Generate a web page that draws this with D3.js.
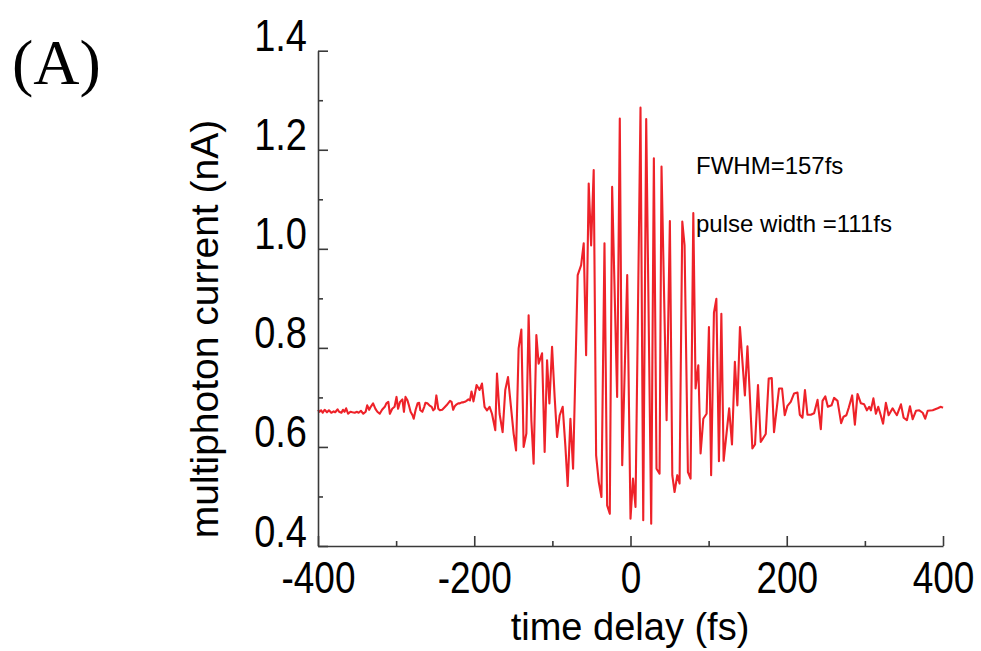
<!DOCTYPE html>
<html>
<head>
<meta charset="utf-8">
<script src="https://cdn.jsdelivr.net/npm/d3@7"></script>
<style>
  html, body { margin: 0; padding: 0; background: #ffffff; }
  svg { display: block; }
</style>
</head>
<body>
<svg id="chart" width="981" height="651"></svg>
<script>
// ---- data ----
const delayFs = [
  -400,-398,-396,-394,-391.5,-388.5,-386,-383,-380,-378,-375,-373,-370,-368,-366,-364,-361.5,-358.5,-356,-353,
  -350,-348,-345,-342,-339,-337,-334.5,-332.5,-329.5,-326.5,-324,-321,-318,-314.5,-312.5,-310,-308,-305,-302,-299.5,
  -297.5,-295,-292,-290,-288,-285.5,-284,-281.5,-279,-277.5,-275,-272.5,-270.5,-269,-266.5,-264,-262.5,-260,-257.5,-254.5,
  -252.5,-250.5,-248.5,-246,-244,-241,-238.5,-235.5,-233.5,-231,-229,-227,-225,-222.5,-220.5,-218.5,-216,-214,-212,-210,
  -207.5,-205.5,-203.5,-201,
  -197,-193.2,-190.1,-186.8,-183.7,-180.4,-177.3,-173.1,-170.9,-167.6,-163.7,-160.3,-156.8,-153,-149.6,-146.5,-143.2,-139.7,
  -136.8,-133.3,-130.4,-126.9,-124,-120.5,-117.6,-113.2,-109.9,-106.8,-103.8,-100.4,-97.1,-94,-90.6,-86.8,-83.3,-80.4,
  -76.9,-73.5,
  -67.6,-63.2,-59.9,-56.8,-53.5,-50.4,-47.1,-44,-40.6,-37.2,-33.3,-29.9,-26.5,-23.5,-17.1,-13.7,-10.6,-4.2,0,3.2,6.4,
  12.8,16.3,20.1,26.5,29.9,33.3,37.2,39.7,46.2,50.4,53.5,56.4,59.9,62.8,66.3,69.2,73.5,76.9,80.4,83.3,86.8,89.7,93.2,
  97.4,100.4,103.2,106.8,109.9,113.2,116.3,119.2,
  126.3,129.9,133.6,136.8,140.1,146.4,149.7,156,159.4,163.2,166.7,173.1,176.9,180.8,183.7,190.1,194,197.4,200.9,205.1,
  209.4,213.7,216.7,220.1,223.3,226.5,230.8,235,239.4,243.6,245.8,249.4,252.6,257.3,260.6,265,269.6,272.7,276.3,279.5,
  283.7,287.2,290.6,294.9,299.1,302.6,305.5,307.7,310.9,314.1,317.1,320.5,323.3,326.9,330.4,335.5,338.5,341,346.2,349.6,
  353.8,357.7,361.2,365.4,369.6,374,377.2,380.4,386.8,393.2,397.4,400
];
const currentNA = [
  0.675,0.671,0.674,0.669,0.675,0.670,0.674,0.669,0.672,0.670,0.676,0.671,0.669,0.675,0.671,0.678,0.667,0.671,0.670,0.669,
  0.671,0.669,0.673,0.667,0.671,0.684,0.675,0.681,0.688,0.677,0.671,0.667,0.675,0.681,0.688,0.691,0.667,0.677,0.681,0.701,
  0.677,0.691,0.696,0.671,0.701,0.694,0.686,0.671,0.664,0.657,0.675,0.688,0.689,0.674,0.671,0.681,0.689,0.688,0.684,0.681,
  0.674,0.677,0.704,0.677,0.674,0.675,0.679,0.684,0.688,0.693,0.691,0.675,0.682,0.686,0.688,0.688,0.690,0.690,0.691,0.693,
  0.696,0.694,0.712,0.692,
  0.725,0.715,0.728,0.681,0.674,0.681,0.667,0.634,0.748,0.667,0.630,0.715,0.741,0.681,0.627,0.593,0.799,0.837,
  0.600,0.627,0.866,0.654,0.566,0.826,0.768,0.789,0.590,0.775,0.688,0.802,0.701,0.620,0.664,0.681,0.600,0.521,
  0.657,0.556,
  0.947,0.967,1.011,0.785,1.132,1.007,1.159,0.583,0.529,0.499,1.011,0.482,0.465,1.125,0.701,1.263,0.563,0.947,0.455,0.536,0.479,
  1.285,0.452,1.262,0.445,1.183,0.556,0.546,1.166,0.654,1.056,0.543,0.509,0.543,0.526,1.055,1.007,0.549,0.536,1.072,0.718,0.765,0.587,0.657,
  0.667,0.842,0.543,0.871,0.899,0.571,0.869,0.572,
  0.678,0.605,0.772,0.684,0.842,0.704,0.803,0.597,0.605,0.725,0.610,0.626,0.738,0.739,0.630,0.718,0.718,0.664,0.683,0.691,
  0.708,0.710,0.665,0.659,0.715,0.665,0.665,0.668,0.695,0.636,0.693,0.702,0.681,0.684,0.699,0.693,0.648,0.661,0.664,0.680,
  0.704,0.645,0.707,0.688,0.686,0.674,0.681,0.674,0.698,0.667,0.681,0.663,0.647,0.689,0.664,0.678,0.670,0.664,0.686,0.659,
  0.654,0.682,0.656,0.673,0.674,0.669,0.657,0.673,0.674,0.678,0.681,0.679
];
const xMajorTicks = [-400, -200, 0, 200, 400];
const xMinorTicks = [-300, -100, 100, 300];
const yMajorTicks = [0.4, 0.6, 0.8, 1.0, 1.2, 1.4];
const yMinorTicks = [0.5, 0.7, 0.9, 1.1, 1.3];
const xTitle = "time delay (fs)";
const yTitle = "multiphoton current (nA)";
const panelLabel = "(A)";
const notes = ["FWHM=157fs", "pulse width =111fs"];

// ---- drawing ----
const svg = d3.select("#chart");
const axisColor = "#3a3a3a";
const lineColor = "#ee2229";
const sans = "'Liberation Sans', Arial, Helvetica, sans-serif";
const tickStretch = 1.18;

const x = d3.scaleLinear().domain([-400, 400]).range([318, 943]);
const y = d3.scaleLinear().domain([0.4, 1.4]).range([546, 50.7]);

const points = delayFs.map((t, i) => [t, currentNA[i]]);

// data line
svg.append("path")
  .datum(points)
  .attr("fill", "none")
  .attr("stroke", lineColor)
  .attr("stroke-width", 2.1)
  .attr("stroke-linejoin", "round")
  .attr("d", d3.line().x(d => x(d[0])).y(d => y(d[1])));

// x axis (ticks pointing inward / up)
const gx = svg.append("g").attr("transform", `translate(0,${y(0.4)})`);
gx.call(d3.axisBottom(x).tickValues(xMajorTicks).tickSizeInner(-10).tickSizeOuter(0)
  .tickPadding(0).tickFormat(d => String(d)));
const gxm = svg.append("g").attr("transform", `translate(0,${y(0.4)})`);
gxm.call(d3.axisBottom(x).tickValues(xMinorTicks).tickSizeInner(-5).tickSizeOuter(0).tickFormat(""));
gxm.select(".domain").remove();

// y axis (ticks pointing inward / right)
const gy = svg.append("g").attr("transform", `translate(${x(-400)},0)`);
gy.call(d3.axisLeft(y).tickValues(yMajorTicks).tickSizeInner(-10).tickSizeOuter(0)
  .tickPadding(11).tickFormat(d3.format(".1f")));
const gym = svg.append("g").attr("transform", `translate(${x(-400)},0)`);
gym.call(d3.axisLeft(y).tickValues(yMinorTicks).tickSizeInner(-5).tickSizeOuter(0).tickFormat(""));
gym.select(".domain").remove();

svg.selectAll(".domain, .tick line")
  .attr("stroke", axisColor).attr("stroke-width", 1.6);

gx.selectAll(".tick text")
  .attr("x", 0).attr("y", 0).attr("dy", null)
  .attr("transform", `translate(0,47) scale(1,${tickStretch})`)
  .attr("font-family", sans).attr("font-size", 37).attr("fill", "#000");
gy.selectAll(".tick text")
  .attr("x", 0).attr("y", 0).attr("dy", null)
  .attr("transform", `translate(-11,0) scale(1,${tickStretch})`)
  .attr("font-family", sans).attr("font-size", 38).attr("fill", "#000");

// axis titles
svg.append("text")
  .attr("x", 630).attr("y", 640)
  .attr("text-anchor", "middle")
  .attr("font-family", sans).attr("font-size", 38).attr("fill", "#000")
  .text(xTitle);
svg.append("text")
  .attr("transform", "translate(218,329) rotate(-90)")
  .attr("text-anchor", "middle")
  .attr("font-family", sans).attr("font-size", 39).attr("fill", "#000")
  .text(yTitle);

// panel label
svg.append("text")
  .attr("x", 12).attr("y", 84)
  .attr("font-family", "'Liberation Serif', 'Times New Roman', serif")
  .attr("font-size", 64).attr("fill", "#000")
  .text(panelLabel);

// annotations
svg.selectAll(".note").data(notes).enter().append("text")
  .attr("class", "note")
  .attr("x", 696)
  .attr("y", (d, i) => i === 0 ? 174 : 232)
  .attr("font-family", sans).attr("font-size", 24).attr("fill", "#000")
  .text(d => d);
</script>
</body>
</html>
